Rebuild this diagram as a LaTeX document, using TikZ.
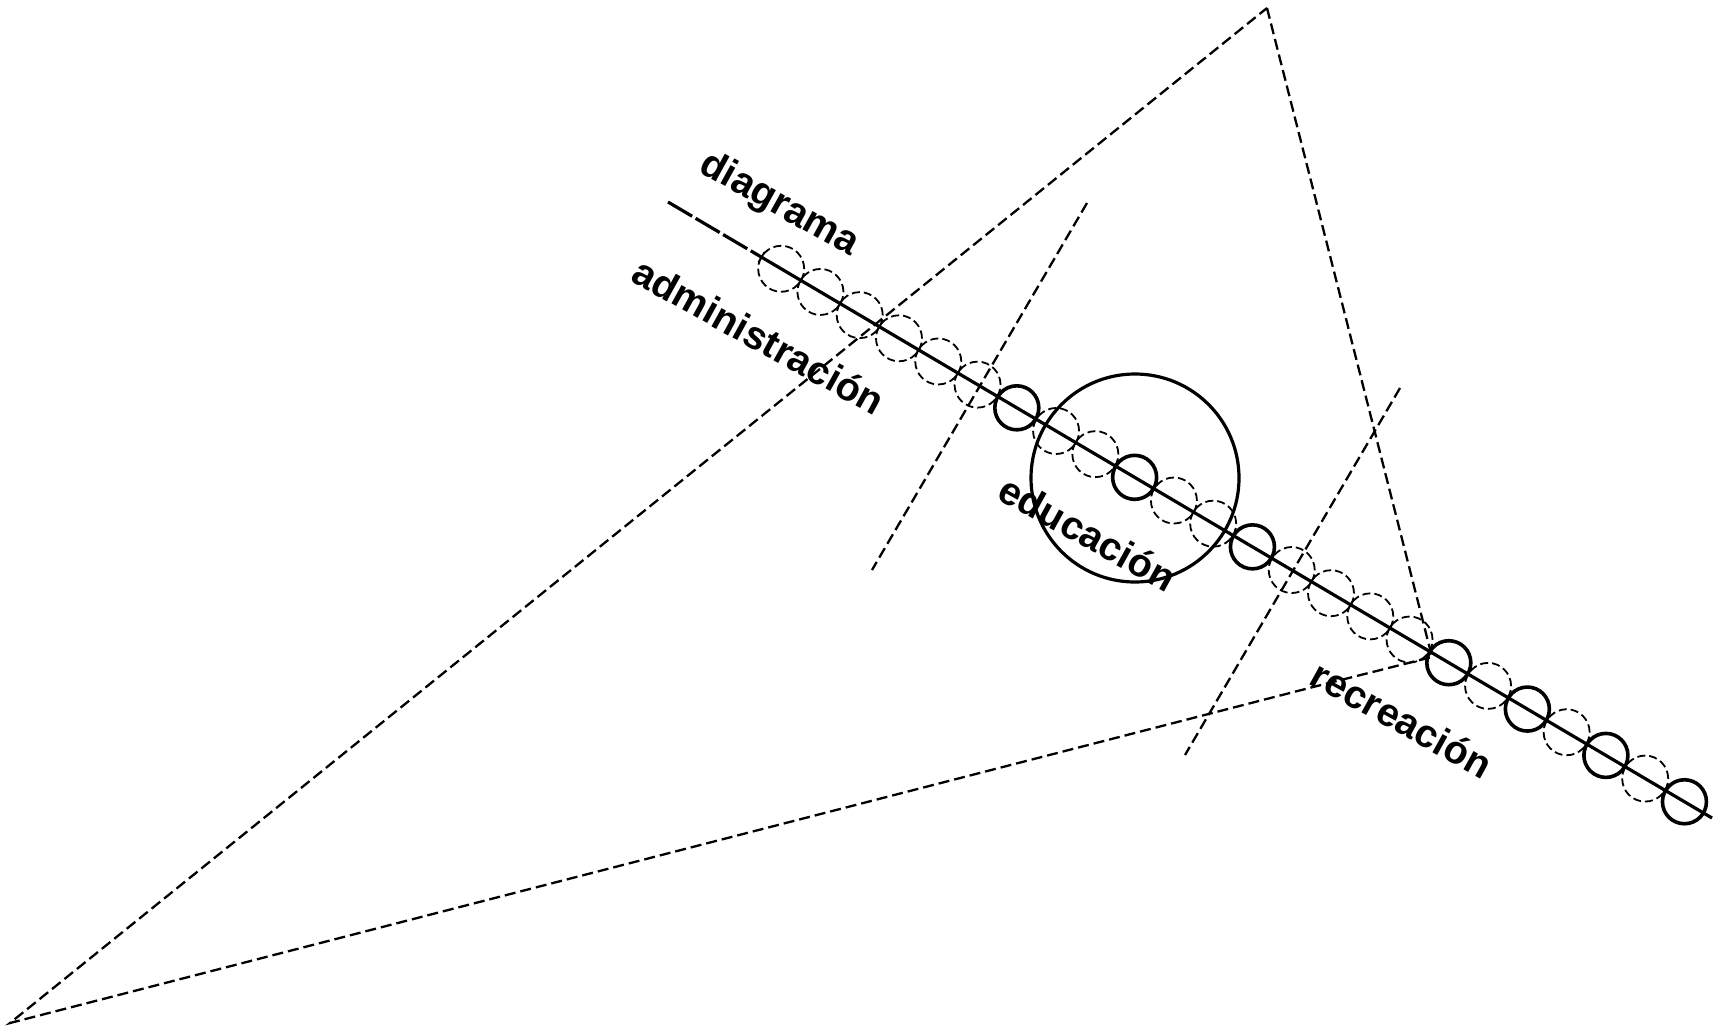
\documentclass[tikz,border=0pt]{standalone}
\usepackage{fontspec}
\setmainfont{Liberation Sans}
\usetikzlibrary{calc}
\begin{document}
\begin{tikzpicture}[x=1pt,y=-1pt,
  guide/.style={draw, dash pattern=on 11pt off 5pt, line width=2.3pt},
  dcirc/.style={draw, circle, inner sep=0pt, minimum size=46pt, dash pattern=on 8pt off 4pt, line width=1.8pt},
  scirc/.style={draw, circle, inner sep=0pt, minimum size=44pt, line width=3.6pt},
  axis/.style={line width=3.2pt},
  tick/.style={line width=1.8pt},
  lbl/.style={font=\bfseries\fontsize{39.5}{40}\selectfont, inner sep=0pt, rotate=-29}]
\useasboundingbox (0,0) rectangle (1729,1029);
% main axis end points
\coordinate (P0) at (668,202);
\coordinate (P1) at (1712,818);
% dashed triangle
\coordinate (T1) at (1267,8);
\coordinate (T2) at (1432,657);
\coordinate (T3) at (1317,686);
\coordinate (T4) at (10,1023);
\draw[guide] (T1) -- (T2) -- (T3) -- (T4) -- cycle;
% two dashed cross lines
\coordinate (A1) at (1087,203);
\coordinate (A2) at (872,570);
\coordinate (B1) at (1400,388);
\coordinate (B2) at (1185,755);
\draw[guide] (A1) -- (A2);
\draw[guide] (B1) -- (B2);
% main axis
\coordinate (Q) at ($(P0)!0.0891!(P1)$);
\draw[axis, dash pattern=on 28pt off 4pt] (P0) -- (Q);
\draw[axis] (Q) -- (P1);
% dashed circles
\foreach \k in {-6,-5,-4,-3,-2,-1,1,2,4,5,7,8,9,10,12,14,16}{
  \pgfmathsetmacro\ff{(405+45.6*\k)/1212.2}
  \node[dcirc] (dc\k) at ($(P0)!\ff!(P1)$) {};
}
% solid circles
\foreach \k/\n in {0/1,3/2,6/3,11/4,13/5,15/6,17/7}{
  \pgfmathsetmacro\ff{(405+45.6*\k)/1212.2}
  \node[scirc] (s\n) at ($(P0)!\ff!(P1)$) {};
}
% ticks between dashed circles
\foreach \k in {-7,-6,-5,-4,-3,-2,1,4,7,8,9}{
  \pgfmathsetmacro\ff{(405+45.6*(\k+0.5))/1212.2}
  \coordinate (X) at ($(P0)!\ff!(P1)$);
  \draw[tick] ($(X)!6pt!90:(P1)$) -- ($(X)!6pt!-90:(P1)$);
}
% large circle
\node[draw, circle, inner sep=0pt, minimum size=208pt, line width=3.2pt] (big) at (1135,478) {};
% labels
\node[lbl] (tdiag) at (779,205) {diagrama};
\node[lbl] (tadm) at (759,336) {administración};
\node[lbl] (tedu) at (1088,533) {educación};
\node[lbl] (trec) at (1402,719) {recreación};
\end{tikzpicture}
\end{document}
